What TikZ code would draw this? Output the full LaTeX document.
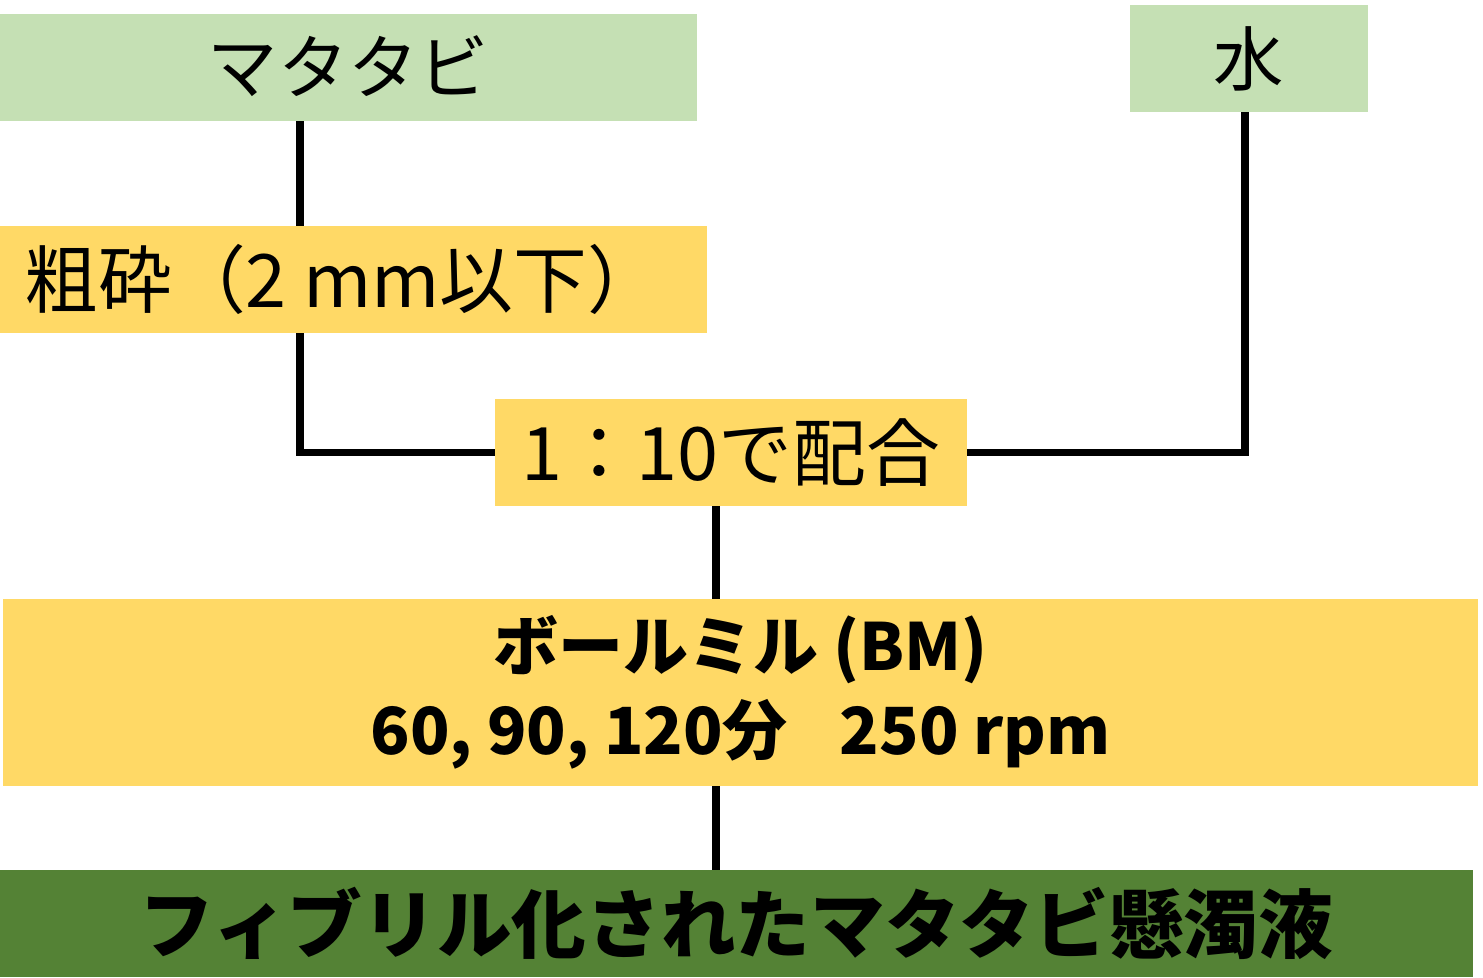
\documentclass[tikz,border=0pt]{standalone}
\usepackage{fontspec}
\setmainfont{Noto Sans CJK JP}
\definecolor{lgreen}{HTML}{C5E0B4}
\definecolor{yel}{HTML}{FFD966}
\definecolor{dgreen}{HTML}{548235}
\begin{document}
\begin{tikzpicture}[x=0.02cm,y=-0.02cm,
  box/.style={rectangle,inner sep=0pt,font=\fontsize{40}{44}\selectfont,text=black},
  conn/.style={line width=4.5pt,draw=black}]
\useasboundingbox (0,0) rectangle (1483,977);
\node[box,fill=lgreen,minimum width=697*0.02cm,minimum height=107*0.02cm] (mat) at (348.5,67.5) {\raisebox{3pt}{マタタビ}};
\node[box,fill=lgreen,minimum width=238*0.02cm,minimum height=107*0.02cm] (mizu) at (1249,58.5) {水};
\node[box,fill=yel,minimum width=707*0.02cm,minimum height=107*0.02cm,font=\fontsize{42}{44}\selectfont] (sosai) at (353.5,279.5) {\hspace*{-12pt}粗砕（2 mm以下）};
\node[box,fill=yel,minimum width=472*0.02cm,minimum height=107*0.02cm,font=\fontsize{42}{44}\selectfont] (mix) at (731,452.5) {1：10で配合};
\node[box,fill=yel,minimum width=1475*0.02cm,minimum height=187*0.02cm,align=center,font=\fontsize{37}{48}\selectfont\bfseries] (bm) at (740.5,692.5) {ボールミル (BM)\\60, 90, 120分\hspace{0.8em}250 rpm};
\node[box,fill=dgreen,minimum width=1473*0.02cm,minimum height=107*0.02cm,font=\fontsize{42.5}{44}\selectfont\bfseries] (fin) at (736.5,923.5) {フィブリル化されたマタタビ懸濁液};
\draw[conn] (mat.south -| 300,0) -- (sosai.north -| 300,0);
\draw[conn] (sosai.south -| 300,0) |- (mix.west);
\draw[conn] (mizu.south -| 1245,0) |- (mix.east);
\draw[conn] (mix.south -| 716,0) -- (bm.north -| 716,0);
\draw[conn] (bm.south -| 716,0) -- (fin.north -| 716,0);
\end{tikzpicture}
\end{document}
